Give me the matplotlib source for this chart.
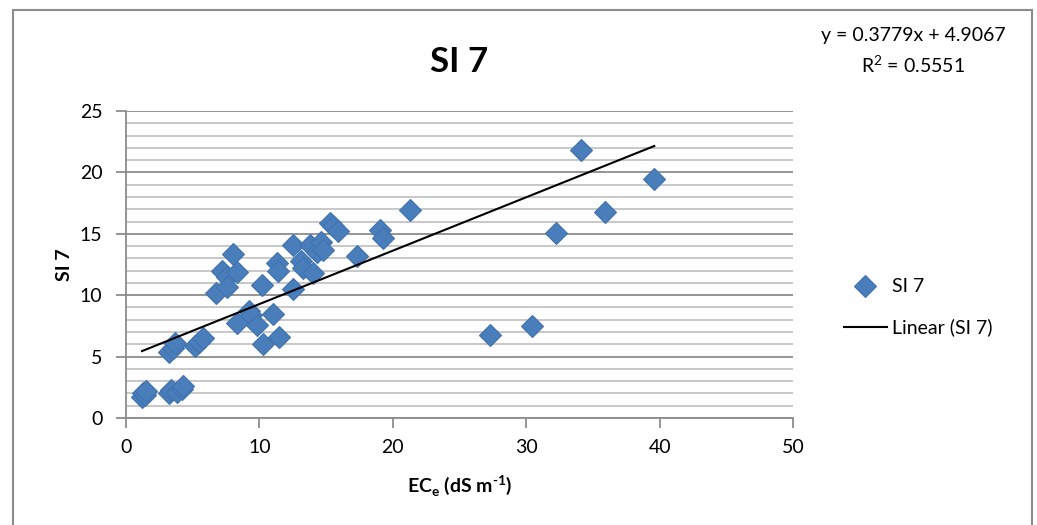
import numpy as np
import matplotlib.pyplot as plt
from matplotlib.patches import Rectangle
from matplotlib.ticker import MultipleLocator

# EC_e (dS/m) and SI 7 values
ec_e = [1.2, 1.3, 1.4, 1.5, 3.2, 3.4, 3.8, 4.2, 4.3,
        3.25, 3.55, 3.7, 5.2, 5.5, 5.8,
        6.75, 7.2, 7.55, 7.55, 8.05, 8.3, 8.35,
        9.25, 9.4, 9.8, 10.2, 10.3, 11.0, 11.3, 11.4, 11.5,
        12.5, 12.55, 13.1, 13.3, 13.8, 14.0, 14.3, 14.6, 14.8,
        15.3, 15.5, 15.9, 17.3, 19.05, 19.3, 21.3,
        27.3, 30.4, 32.2, 34.1, 35.9, 39.6]
si7 = [1.7, 2.0, 1.9, 2.2, 2.0, 2.3, 2.15, 2.4, 2.6,
       5.4, 5.7, 6.1, 5.85, 6.2, 6.5,
       10.2, 12.0, 11.5, 10.7, 13.35, 7.7, 11.9,
       8.7, 8.4, 7.6, 10.8, 6.0, 8.5, 12.65, 12.0, 6.6,
       10.5, 14.05, 12.8, 12.2, 14.05, 11.8, 13.55, 14.35, 13.7,
       15.85, 15.6, 15.2, 13.2, 15.3, 14.65, 16.95,
       6.75, 7.5, 15.05, 21.8, 16.8, 19.5]

# trend line as drawn (end points)
trend_x = [1.2, 39.6]
trend_y = [5.45, 22.15]

# equation as printed on the chart
slope = 0.3779
intercept = 4.9067
r2 = 0.5551

plt.rcParams['font.family'] = ['Lato', 'DejaVu Sans']
plt.rcParams['mathtext.fontset'] = 'custom'
plt.rcParams['mathtext.rm'] = 'Lato'
plt.rcParams['mathtext.bf'] = 'Lato:bold'

fig = plt.figure(figsize=(10.37, 5.25), dpi=100)
ax = fig.add_axes([126 / 1037, 107 / 525, 667 / 1037, 307 / 525])

# chart-area border (bottom edge runs past the image)
fig.patches.append(Rectangle((13 / 1037, -0.1), 1019 / 1037, 1.1 - 10 / 525,
                             transform=fig.transFigure, fill=False,
                             edgecolor='#8c8c8c', linewidth=1.5))

ax.yaxis.set_major_locator(MultipleLocator(5))
ax.yaxis.set_minor_locator(MultipleLocator(1))
ax.xaxis.set_major_locator(MultipleLocator(10))
ax.grid(True, which='major', axis='y', color='#8c8c8c', linewidth=1.3)
ax.grid(True, which='minor', axis='y', color='#c4c4c4', linewidth=1.3)
ax.set_axisbelow(True)

ax.plot(ec_e, si7, linestyle='none', marker='D', markersize=11.5,
        color='#4a7ebb', markeredgecolor='#3f72ae', markeredgewidth=0.8,
        label='SI 7', zorder=3)
ax.plot(trend_x, trend_y, color='black', linewidth=1.5,
        label='Linear (SI 7)', zorder=4)

ax.set_xlim(0, 50)
ax.set_ylim(0, 25)
for s in ('top', 'right'):
    ax.spines[s].set_visible(False)
for s in ('left', 'bottom'):
    ax.spines[s].set_color('#8c8c8c')
    ax.spines[s].set_linewidth(1.3)
ax.tick_params(which='major', length=7, width=1.3, color='#8c8c8c',
               labelsize=14, labelcolor='black')
ax.tick_params(axis='y', which='major', pad=10)
ax.tick_params(axis='x', which='major', pad=8)
ax.tick_params(which='minor', length=0)

ax.set_title('SI 7', fontsize=25, fontweight='bold', y=1.1)
ax.set_ylabel('SI 7', fontsize=14, fontweight='bold', labelpad=5)
ax.set_xlabel('EC$_\\mathbf{e}$ (dS m$^\\mathbf{\u20101}$)', fontsize=14,
              fontweight='bold', labelpad=13)

fig.text(913 / 1037, 1 - 35 / 525, f'y = {slope}x + {intercept}',
         ha='center', va='center', fontsize=14)
fig.text(913 / 1037, 1 - 65 / 525, f'R$^2$ = {r2}',
         ha='center', va='center', fontsize=14)

ax.legend(loc='center left', bbox_to_anchor=(1.05, 0.36), frameon=False,
          fontsize=14, handlelength=2.2, labelspacing=1.2, handletextpad=0.3)

fig.savefig('out.png', dpi=100)
